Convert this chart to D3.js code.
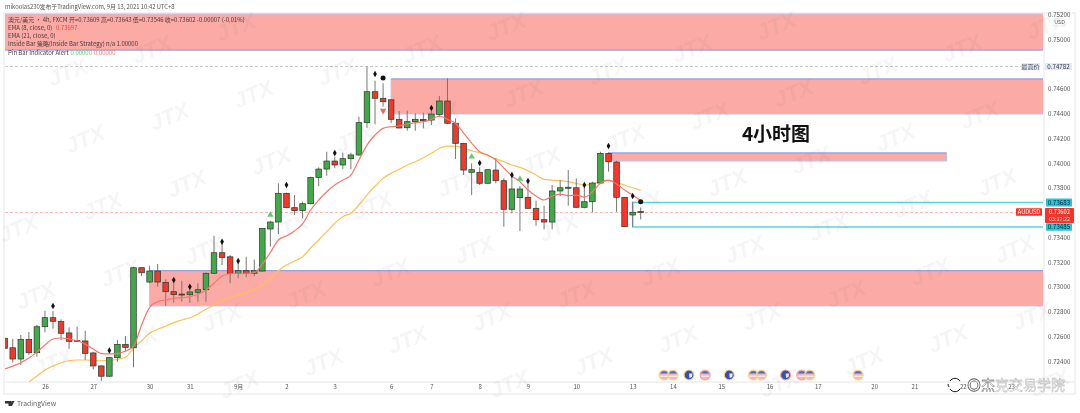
<!DOCTYPE html>
<html><head><meta charset="utf-8">
<script src="https://cdn.jsdelivr.net/npm/d3@7"></script>
<style>
html,body{margin:0;padding:0;background:#fff;overflow:hidden}
svg{display:block;filter:blur(.55px)}
text{font-family:"Noto Sans CJK SC","Liberation Sans",sans-serif}
</style></head><body><div id="c"></div>
<script>
const open=[.72586,.72509,.72418,.72577,.72469,.72679,.72752,.7272,.72629,.72569,.72564,.72467,.72362,.72279,.72429,.72536,.72509,.73156,.7304,.73129,.73038,.72962,.72943,.72938,.72957,.72978,.73111,.73277,.73244,.73111,.73132,.73111,.73129,.73469,.73525,.73757,.73641,.73617,.73673,.73886,.73953,.74018,.73986,.74037,.74067,.74328,.74578,.74525,.74513,.74355,.74287,.74336,.74355,.74349,.74395,.74503,.74323,.74161,.73927,.73927,.73838,.73945,.73859,.73628,.73722,.73725,.73636,.73544,.73525,.73776,.738,.73802,.73644,.73689,.7384,.7408,.7401,.73725,.73582,.73609];
const close=[.72505,.72418,.72576,.72469,.72679,.72752,.72723,.72626,.72561,.72561,.72464,.72362,.72279,.72429,.72536,.72512,.73156,.73115,.73129,.7304,.72962,.72938,.72939,.7296,.72978,.73111,.73277,.73239,.73111,.73132,.73111,.73132,.73474,.73525,.73757,.73641,.73617,.73673,.73886,.73953,.74018,.73986,.74037,.74067,.74328,.74578,.74525,.74497,.74355,.74285,.74336,.74355,.74344,.74398,.74503,.74323,.74161,.73945,.73948,.73838,.73948,.73859,.73628,.73792,.73792,.73636,.73544,.73525,.73776,.73802,.73806,.73644,.73689,.7384,.7408,.74012,.73725,.73487,.73604,.73602];
const high=[.7259,.72581,.72612,.72636,.72693,.72809,.72807,.72739,.72674,.72679,.72646,.72477,.7237,.72432,.72572,.72604,.73164,.73159,.73172,.73186,.73062,.73051,.73051,.73016,.7303,.73116,.73414,.73348,.73258,.73213,.73244,.73222,.73476,.73533,.73838,.73762,.73743,.73689,.73891,.73967,.74093,.74053,.74085,.74085,.74376,.74782,.74667,.74646,.74517,.74422,.74425,.74403,.74408,.74425,.74543,.74686,.74363,.74164,.73999,.73967,.7395,.74042,.73878,.73905,.73816,.73838,.73697,.73657,.73824,.73865,.73945,.73878,.73832,.73851,.74093,.74088,.7402,.73725,.73689,.73643];
const low=[.725,.72388,.7237,.72451,.72437,.72634,.72663,.72572,.72501,.72556,.7241,.72334,.7224,.72273,.72396,.72477,.72351,.73088,.73034,.73002,.72847,.72873,.72881,.72871,.72881,.72881,.73105,.73178,.7303,.73071,.73079,.73088,.73125,.73326,.73429,.73636,.73582,.73555,.73668,.73816,.73899,.73959,.73953,.73951,.74059,.74287,.74315,.74457,.74323,.74282,.74263,.74263,.74282,.74309,.74376,.74317,.74034,.73905,.73743,.73824,.73836,.73838,.73487,.73596,.73452,.7363,.73495,.73466,.73466,.73735,.73657,.73641,.73636,.73604,.73832,.73932,.73608,.73487,.73487,.73546];
const ema8=[.72337,.72361,.72388,.72426,.72474,.72531,.7258,.72588,.7258,.72566,.7254,.72499,.72461,.72459,.72461,.72483,.72518,.72693,.72836,.72881,.72895,.72909,.72914,.72922,.72941,.72976,.7303,.73089,.73107,.73111,.73111,.73116,.73186,.73279,.7338,.73413,.73453,.7351,.73622,.73703,.7377,.73824,.73864,.73905,.74026,.74147,.74228,.74282,.74295,.74301,.74317,.74328,.74336,.74355,.74382,.74355,.74323,.74244,.74163,.74093,.74067,.74026,.73962,.73897,.73851,.73784,.73735,.73703,.73735,.73751,.73738,.73743,.73725,.7377,.73838,.73864,.73832,.73784,.73743,.73697];
const ema21Start=3;
const ema21=[.72232,.7228,.72329,.72361,.72388,.72404,.7241,.7241,.72407,.72404,.72407,.72416,.72432,.72505,.72566,.72626,.72658,.72685,.72712,.72733,.72752,.72782,.7282,.72855,.72889,.72914,.72935,.72954,.72981,.73016,.73073,.73132,.73178,.7321,.73244,.73315,.7338,.73447,.73515,.73568,.73596,.73663,.73743,.73816,.73878,.73919,.73951,.73986,.74012,.74045,.7408,.74121,.74139,.74139,.74121,.74101,.74085,.74061,.74036,.74012,.73986,.73967,.7394,.73905,.7387,.73864,.73859,.73851,.73838,.73824,.73832,.73851,.73859,.73846,.73824,.73802,.73781];
const zoneFrom=[0,48,75,18];
const zoneTo=[null,null,117,null];
const zoneTop=[.75206,.74681,.74083,.73132];
const zoneBottom=[.74915,.74398,.74018,.72847];
const dayIndex=[5,11,18,23,29,35,41,48,53,59,65,71,78,83,89,95,101,108,113,119,125];
const dayLabels=["26","27","30","31","9月","2","3","6","7","8","9","10","13","14","15","16","17","20","21","22","23"];
const priceTicks=[.752,.75,.746,.744,.742,.74,.738,.734,.732,.73,.728,.726,.724];
const dotIndex=[6,13,21,23,27,29,35,41,46,53,59,63,65,72,75,78];
const dotPrice=[.72847,.72487,.73057,.73002,.73365,.7321,.73824,.74083,.74721,.74446,.74002,.73905,.73857,.73824,.74139,.73735];
const bigDotIndex=[47,79];
const bigDotPrice=[.74689,.73689];
const upIndex=[33,58,64];
const upPrice=[.73582,.74053,.73873];
const downIndex=[47];
const downPrice=[.74425];
const flagIndex=[81.9,83,85,87,90,93,94,97,99,100,106];
const flagKind=["us","us","au","usp","au","us","us","aup","usp","us","us"];
const legendLines=["澳元/美元 · 4h, FXCM  开=0.73609  高=0.73643  低=0.73546  收=0.73602  -0.00007 (-0.01%)","EMA (8, close, 0)","EMA (21, close, 0)","Inside Bar 策略(Inside Bar Strategy)  n/a  1.00000","Pin Bar Indicator Alert"];

const W=1080,H=413,L=5,R=1043,T=13,B=382,AX=1075,TB=394;
const n=open.length;
const x=d3.scaleLinear().domain([0,79]).range([4.7,640.7]);
const y=d3.scaleLinear().domain([.75,.724]).range([39.5,361.25]);
const svg=d3.select("#c").append("svg").attr("width",W).attr("height",H).attr("viewBox",`0 0 ${W} ${H}`);
svg.append("rect").attr("width",W).attr("height",H).attr("fill","#fff");
svg.append("defs").append("clipPath").attr("id","p").append("rect").attr("x",L).attr("y",T).attr("width",R-L).attr("height",B-T);

// frame
const frame=svg.append("g").attr("stroke","#eceef1").attr("stroke-width",1.4).attr("fill","none");
frame.append("rect").attr("x",L-1).attr("y",T).attr("width",AX-L+1).attr("height",TB-T);
frame.append("line").attr("x1",L).attr("x2",AX).attr("y1",B).attr("y2",B);
frame.append("line").attr("x1",R+1).attr("x2",R+1).attr("y1",T).attr("y2",TB);

const plot=svg.append("g").attr("clip-path","url(#p)");
// zones
zoneTop.forEach((t,i)=>{
  const x0=x(zoneFrom[i]),x1=zoneTo[i]==null?R:x(zoneTo[i]);
  plot.append("rect").attr("x",x0).attr("y",y(t)).attr("width",x1-x0).attr("height",y(zoneBottom[i])-y(t)).attr("fill","#fbaaa6");
  plot.append("path").attr("d",`M${x1},${y(t)}H${x0}V${y(zoneBottom[i])}H${x1}`+(zoneTo[i]==null?"":`V${y(t)}`)).attr("fill","none").attr("stroke","#b9c1ee").attr("stroke-width",1);
  plot.append("line").attr("x1",x0).attr("x2",x1).attr("y1",y(i===0?zoneBottom[i]:t)).attr("y2",y(i===0?zoneBottom[i]:t)).attr("stroke","#8f97e2").attr("stroke-width",1);
});
// cyan range
const cyanTop=.73683,cyanBottom=.73485,cyanFrom=78;
plot.append("path").attr("d",`M${R},${y(cyanTop)}H${x(cyanFrom)}V${y(cyanBottom)}H${R}`).attr("fill","none").attr("stroke","#5ad3e6").attr("stroke-width",1.4);
// dashed
const hi=.74782,last=.73602;
plot.append("line").attr("x1",L).attr("x2",1021).attr("y1",y(hi)).attr("y2",y(hi)).attr("stroke","#bbb").attr("stroke-dasharray","3 2").attr("stroke-width",.8);
plot.append("line").attr("x1",L).attr("x2",1016).attr("y1",y(last)).attr("y2",y(last)).attr("stroke","#f7a8a4").attr("stroke-dasharray","3 2").attr("stroke-width",.8);
// lines
const line=d3.line().x(d=>x(d[0])).y(d=>y(d[1])).curve(d3.curveMonotoneX);
const orange=ema21.map((v,i)=>[i+ema21Start,v]);
plot.append("path").attr("d",line(orange)).attr("fill","none").attr("stroke","#fbc254").attr("stroke-width",1.2);
// candles
const c=plot.append("g").selectAll("g").data(d3.range(n)).join("g");
c.append("line").attr("x1",x).attr("x2",x).attr("y1",i=>y(high[i])).attr("y2",i=>y(low[i])).attr("stroke","#777").attr("stroke-width",1);
c.append("rect").attr("x",i=>x(i)-2.8).attr("width",5.6)
 .attr("y",i=>y(Math.max(open[i],close[i])))
 .attr("height",i=>Math.max(1,Math.abs(y(open[i])-y(close[i]))))
 .attr("fill",i=>close[i]>open[i]?"#46a64c":"#ec3a2e").attr("stroke","#263a2a").attr("stroke-width",.7);
plot.append("path").attr("d",line(ema8.map((v,i)=>[i,v]))).attr("fill","none").attr("stroke","#f4796b").attr("stroke-width",1.2);
// markers
const sym=(ix,pr,type,size,fill)=>plot.append("g").selectAll("path").data(ix).join("path")
  .attr("d",d3.symbol().type(type).size(size)).attr("fill",fill)
  .attr("transform",(d,i)=>`translate(${x(d)},${y(pr[i])})`);
sym(dotIndex,dotPrice,d3.symbolDiamond,12,"#111");
sym(bigDotIndex,bigDotPrice,d3.symbolCircle,20,"#111");
sym(upIndex,upPrice,d3.symbolTriangle,18,"#6cc777");
plot.append("g").selectAll("path").data(downIndex).join("path")
  .attr("d",d3.symbol().type(d3.symbolTriangle).size(18)).attr("fill","#f2685c")
  .attr("transform",(d,i)=>`translate(${x(d)},${y(downPrice[i])}) rotate(180)`);
// flags
const fl=svg.append("g").selectAll("g").data(flagIndex).join("g").attr("transform",d=>`translate(${x(d)},375)`);
fl.append("circle").attr("r",5).attr("fill",(d,i)=>flagKind[i].startsWith("au")?"#3350ad":"#f4b5b8").attr("stroke",(d,i)=>flagKind[i].endsWith("p")?"#f6a2a2":"#fcd58a").attr("stroke-width",1.2);
fl.append("path").attr("d",(d,i)=>flagKind[i].startsWith("au")?"M0,-1.5L3.5,-1.5L3,2L0.5,3Z":"M-4,-1.5A4.5,4.5 0 0 1 4,-1.5Z").attr("fill",(d,i)=>flagKind[i].startsWith("au")?"#e9ecf8":"#4a6fc4");
fl.filter((d,i)=>!flagKind[i].startsWith("au")).append("line").attr("x1",-4).attr("x2",4).attr("y1",1.2).attr("y2",1.2).attr("stroke","#fff").attr("stroke-width",1);

// axes
const ay=d3.axisRight(y).tickValues(priceTicks).tickSize(0).tickPadding(0).tickFormat(d3.format(".5f"));
const gy=svg.append("g").attr("transform",`translate(1048,0)`).call(ay);
gy.select(".domain").remove();
gy.selectAll("text").attr("font-size",6.2).attr("fill","#555");
const ax=d3.axisBottom(x).tickValues(dayIndex).tickSize(0).tickPadding(0).tickFormat((d,i)=>dayLabels[i]);
const gx=svg.append("g").attr("transform",`translate(0,${B+3})`).call(ax);
gx.select(".domain").remove();
gx.selectAll("text").attr("font-size",6).attr("fill","#555");

// price tags
const tag=(x0,yc,w,h,fill,txt,col,fs)=>{
  svg.append("rect").attr("x",x0).attr("y",yc-h/2).attr("width",w).attr("height",h).attr("fill",fill).attr("rx",.6);
  svg.append("text").attr("x",x0+w/2).attr("y",yc).attr("dy",".36em").attr("text-anchor","middle").attr("font-size",fs||6.2).attr("fill",col).text(txt);
};
tag(1021,y(hi),19,7,"#dfeafb","最高价","#444");
tag(1045,y(hi),27,7,"#dfeafb",d3.format(".5f")(hi),"#333");
tag(1046,y(cyanTop),26,8,"#27c3d6",d3.format(".5f")(cyanTop),"#123");
tag(1046,y(cyanBottom),26,7.5,"#27c3d6",d3.format(".5f")(cyanBottom),"#123");
svg.append("rect").attr("x",1045).attr("y",208).attr("width",29).attr("height",15).attr("fill","#f0352b").attr("rx",.8);
svg.append("text").attr("x",1059.5).attr("y",212).attr("dy",".36em").attr("text-anchor","middle").attr("font-size",5.8).attr("fill","#fff").text(d3.format(".5f")(last));
svg.append("text").attr("x",1059.5).attr("y",219.3).attr("dy",".36em").attr("text-anchor","middle").attr("font-size",5.4).attr("fill","#ffd9d6").text("03:17:22");
tag(1016,y(last)-.5,26,7.5,"#f0352b","AUDUSD","#fff",5.6);
svg.append("rect").attr("x",1053).attr("y",19).attr("width",13).attr("height",7).attr("rx",3).attr("fill","#fff").attr("stroke","#ddd").attr("stroke-width",.5);
svg.append("text").attr("x",1059.5).attr("y",22.5).attr("dy",".36em").attr("text-anchor","middle").attr("font-size",5.4).attr("fill","#555").text("USD");

// texts
svg.append("text").attr("x",5).attr("y",9.3).attr("font-size",5.85).attr("fill","#555").text("mikoolas230发布于TradingView.com, 9月 13, 2021 10:42 UTC+8");
const ly=[22,30,38,46,55];
const lg=svg.append("g").attr("font-size",5.95).attr("fill","#4a3a3a");
legendLines.forEach((t,i)=>lg.append("text").attr("x",8).attr("y",ly[i]).text(t));
lg.append("text").attr("x",56).attr("y",ly[1]).attr("fill","#f5463a").text("0.73697");
lg.append("text").attr("x",59).attr("y",ly[2]).attr("fill","#f7c23f").text("0.73779");
lg.append("text").attr("x",70.5).attr("y",ly[4]).attr("fill","#6cc777").text("0.00000");
lg.append("text").attr("x",94).attr("y",ly[4]).attr("fill","#f5786c").text("0.00000");
svg.append("text").attr("x",776).attr("y",141).attr("text-anchor","middle").attr("font-size",19).attr("font-weight",700).attr("fill","#111").text("4小时图");
// TradingView mark
svg.append("path").attr("d","M5,401h6v5h-2.5v-2.6H5zM11.5,401h3l-2.6,5h-1.6z").attr("fill","#333");
svg.append("text").attr("x",17).attr("y",406).attr("font-size",6.8).attr("fill","#666").text("TradingView");
// watermark lattice (decorative background stamp)
const wm=[];
for(let m=-4;m<16;m++)for(let k=-4;k<8;k++){
  const px=85+84.2*m+17.5*k,py=139-22.5*m+67*k;
  if(px>18&&px<1062&&py>12&&py<402)wm.push([px,py]);
}
svg.append("g").selectAll("text").data(wm).join("text")
  .attr("transform",d=>`translate(${d[0]},${d[1]}) rotate(-22)`)
  .attr("text-anchor","middle").attr("dy",".35em").attr("font-size",22).attr("font-style","italic").attr("font-weight",700)
  .attr("style",'font-family:"Liberation Sans"').attr("fill","rgba(110,110,120,.07)").text("JTX");
// brand stamp
svg.append("path").attr("d","M950,381A6,6 0 0 1 960,381M960,389A6,6 0 0 1 950,389M948,384A6,6 0 0 0 949,387").attr("fill","none").attr("stroke","#111").attr("stroke-width",1);
const brand=svg.append("text").attr("x",967).attr("y",390).attr("font-size",14).attr("fill","rgba(255,255,255,.6)").attr("stroke","#8a8a8a").attr("stroke-width",.4);
brand.append("tspan").attr("stroke","#555").text("◎杰");
brand.append("tspan").attr("stroke","#aaa").text("克交易学院");
</script></body></html>
